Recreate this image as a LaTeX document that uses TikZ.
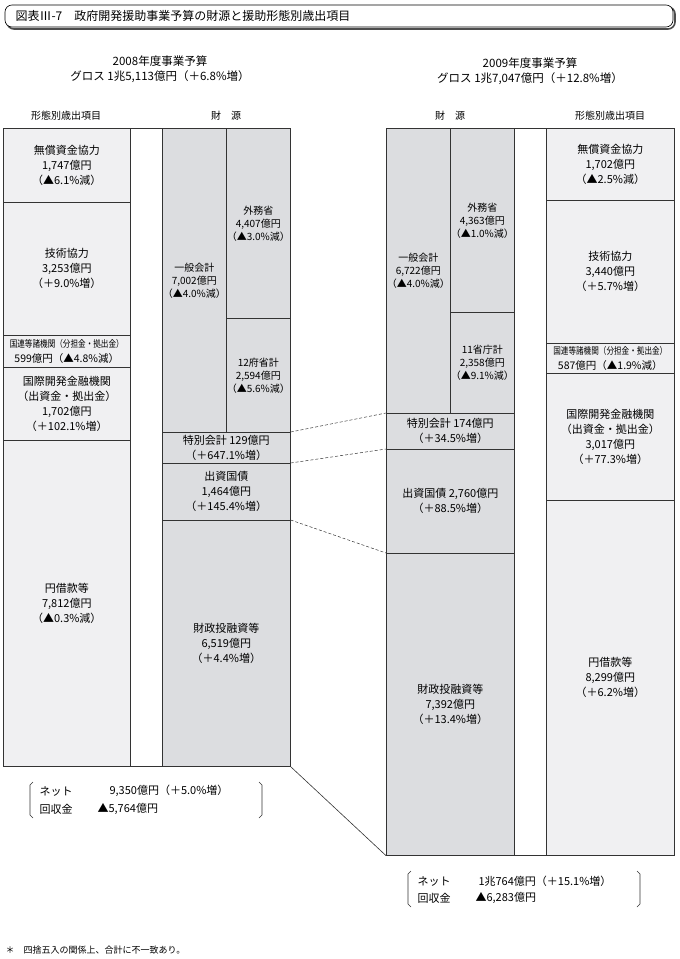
\documentclass[tikz,border=0pt]{standalone}
\usepackage{fontspec}
\setmainfont{Noto Sans CJK JP}
\newfontfamily\cjk{Noto Sans CJK JP}
\usetikzlibrary{positioning}
\definecolor{litegray}{HTML}{F0F0F2}
\definecolor{darkgray}{HTML}{DCDDE0}
\tikzset{
  cell/.style={draw=black!80, line width=0.6pt, anchor=north west, inner sep=0pt,
               align=center, font=\fontsize{11}{15}\selectfont},
  outcell/.style={cell, fill=litegray},
  fundcell/.style={cell, fill=darkgray},
  narrow/.style={font=\fontsize{10}{13}\selectfont},
  head/.style={font=\fontsize{11.5}{15}\selectfont, align=center},
  collabel/.style={font=\fontsize{10}{12}\selectfont},
  link/.style={densely dashed, line width=0.5pt, black!80},
  bracket/.style={line width=0.6pt, black!80}
}
\newcommand{\cellbox}[7]{% style, name, x, y, w, h, text
  \node[#1, minimum width=#5pt, minimum height=#6pt] (#2) at (#3,#4) {#7};}
\begin{document}
\begin{tikzpicture}[x=1pt,y=-1pt]
\useasboundingbox (0,0) rectangle (680,959);

% title
\draw[line width=1.6pt, black!70, rounded corners=7pt] (7,7) rectangle (675,29);
\draw[line width=0.6pt, fill=white, rounded corners=7pt] (5,5) rectangle (673,27);
\node[anchor=west, font=\fontsize{12}{14}\selectfont] (title) at (12,16)
  {図表Ⅲ-7\quad 政府開発援助事業予算の財源と援助形態別歳出項目};

% headers
\node[head] (h08) at (160,69) {2008年度事業予算\\グロス 1兆5,113億円（＋6.8\%増）};
\node[head] (h09) at (530,71) {2009年度事業予算\\グロス 1兆7,047億円（＋12.8\%増）};
\node[collabel] (lab1) at (66,116) {形態別歳出項目};
\node[collabel] (lab2) at (226,116) {財\quad 源};
\node[collabel] (lab3) at (450,116) {財\quad 源};
\node[collabel] (lab4) at (610,116) {形態別歳出項目};

% 2008 outer frame and gap
\draw[line width=0.6pt, black!80] (3,128) rectangle (290,766);
\draw[line width=0.6pt, black!80] (130,128) -- (130,766) (162,128) -- (162,766);

% 2008 expenditure
\cellbox{outcell}{lgrant}{3}{128}{127}{74}{無償資金協力\\1,747億円\\（▲6.1\%減）}
\cellbox{outcell}{ltech}{3}{202}{127}{133}{技術協力\\3,253億円\\（＋9.0\%増）}
\cellbox{outcell}{lun}{3}{335}{127}{32}{\scalebox{0.8}[1]{\fontsize{9.5}{12}\selectfont 国連等諸機関（分担金・拠出金）}\\\fontsize{10.5}{13}\selectfont 599億円（▲4.8\%減）}
\cellbox{outcell}{lifi}{3}{367}{127}{73}{国際開発金融機関\\（出資金・拠出金）\\1,702億円\\（＋102.1\%増）}
\cellbox{outcell}{lloan}{3}{440}{127}{326}{円借款等\\7,812億円\\（▲0.3\%減）}

% 2008 funding
\cellbox{fundcell,narrow}{lgen}{162}{128}{64}{304}{一般会計\\7,002億円\\（▲4.0\%減）}
\cellbox{fundcell,narrow}{lmofa}{226}{128}{64}{190}{外務省\\4,407億円\\（▲3.0\%減）}
\cellbox{fundcell,narrow}{lmin}{226}{318}{64}{114}{12府省計\\2,594億円\\（▲5.6\%減）}
\cellbox{fundcell}{lspec}{162}{432}{128}{31}{特別会計 129億円\\（＋647.1\%増）}
\cellbox{fundcell}{lbond}{162}{463}{128}{57}{出資国債\\1,464億円\\（＋145.4\%増）}
\cellbox{fundcell}{lfilp}{162}{520}{128}{246}{財政投融資等\\6,519億円\\（＋4.4\%増）}

% 2009 outer frame and gap
\draw[line width=0.6pt, black!80] (386,128) rectangle (674,855);
\draw[line width=0.6pt, black!80] (514,128) -- (514,855) (546,128) -- (546,855);

% 2009 funding
\cellbox{fundcell,narrow}{rgen}{386}{128}{64}{285}{一般会計\\6,722億円\\（▲4.0\%減）}
\cellbox{fundcell,narrow}{rmofa}{450}{128}{64}{184}{外務省\\4,363億円\\（▲1.0\%減）}
\cellbox{fundcell,narrow}{rmin}{450}{312}{64}{101}{11省庁計\\2,358億円\\（▲9.1\%減）}
\cellbox{fundcell}{rspec}{386}{413}{128}{36}{特別会計 174億円\\（＋34.5\%増）}
\cellbox{fundcell}{rbond}{386}{449}{128}{104}{出資国債 2,760億円\\（＋88.5\%増）}
\cellbox{fundcell}{rfilp}{386}{553}{128}{302}{財政投融資等\\7,392億円\\（＋13.4\%増）}

% 2009 expenditure
\cellbox{outcell}{rgrant}{546}{128}{128}{72}{無償資金協力\\1,702億円\\（▲2.5\%減）}
\cellbox{outcell}{rtech}{546}{200}{128}{143}{技術協力\\3,440億円\\（＋5.7\%増）}
\cellbox{outcell}{run}{546}{343}{128}{30}{\scalebox{0.8}[1]{\fontsize{9.5}{12}\selectfont 国連等諸機関（分担金・拠出金）}\\\fontsize{10.5}{13}\selectfont 587億円（▲1.9\%減）}
\cellbox{outcell}{rifi}{546}{373}{128}{127}{国際開発金融機関\\（出資金・拠出金）\\3,017億円\\（＋77.3\%増）}
\cellbox{outcell}{rloan}{546}{500}{128}{355}{円借款等\\8,299億円\\（＋6.2\%増）}

% links between years
\draw[link] (lspec.north east) -- (rspec.north west);
\draw[link] (lbond.north east) -- (rbond.north west);
\draw[link] (lfilp.north east) -- (rfilp.north west);
\draw[line width=0.6pt, black!80] (lfilp.south east) -- (rfilp.south west);

% net totals
\draw[bracket] (33,782) -- (30,785) -- (30,815) -- (33,818);
\draw[bracket] (259,782) -- (262,785) -- (262,815) -- (259,818);
\node[anchor=west, font=\fontsize{11}{14}\selectfont] (lnet) at (36,791) {ネット};
\node[anchor=west, font=\fontsize{11}{14}\selectfont] (lnetv) at (106,791) {9,350億円（＋5.0\%増）};
\node[anchor=west, font=\fontsize{11}{14}\selectfont] (lrec) at (36,809) {回収金};
\node[anchor=west, font=\fontsize{11}{14}\selectfont] (lrecv) at (94,809) {▲5,764億円};

\draw[bracket] (411,871) -- (408,874) -- (408,904) -- (411,907);
\draw[bracket] (637,871) -- (640,874) -- (640,904) -- (637,907);
\node[anchor=west, font=\fontsize{11}{14}\selectfont] (rnet) at (414,881) {ネット};
\node[anchor=west, font=\fontsize{11}{14}\selectfont] (rnetv) at (475,881) {1兆764億円（＋15.1\%増）};
\node[anchor=west, font=\fontsize{11}{14}\selectfont] (rrec) at (414,898) {回収金};
\node[anchor=west, font=\fontsize{11}{14}\selectfont] (rrecv) at (472,898) {▲6,283億円};

% footnote
\node[anchor=west, font=\fontsize{9}{11}\selectfont] (note) at (2,950) {＊\quad 四捨五入の関係上、合計に不一致あり。};
\end{tikzpicture}
\end{document}
